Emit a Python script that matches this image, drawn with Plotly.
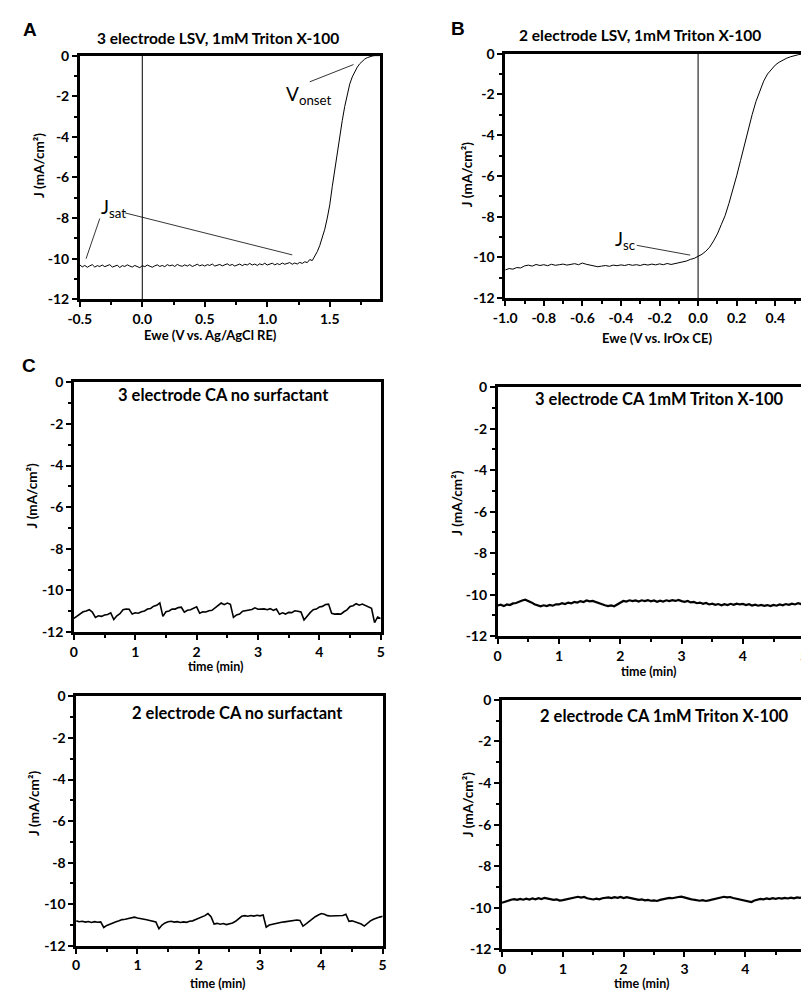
import numpy as np
import plotly.graph_objects as go

W, H = 809, 991

# ---- data ----
# A: 3 electrode LSV (V vs Ag/AgCl), sampled every 0.02 V from -0.50 to 1.90
lsv3_v = np.round(np.arange(-0.50, 1.901, 0.02), 2)
lsv3_j = [
    -10.30, -10.40, -10.33, -10.42, -10.35, -10.29, -10.41, -10.34, -10.38, -10.31,
    -10.39, -10.35, -10.29, -10.41, -10.36, -10.32, -10.43, -10.34, -10.38, -10.30,
    -10.36, -10.41, -10.33, -10.38, -10.44, -10.34, -10.39, -10.31, -10.36, -10.42,
    -10.35, -10.30, -10.38, -10.33, -10.39, -10.29, -10.35, -10.31, -10.38, -10.28,
    -10.34, -10.37, -10.30, -10.36, -10.29, -10.38, -10.33, -10.27, -10.35, -10.30,
    -10.36, -10.29, -10.33, -10.26, -10.36, -10.30, -10.28, -10.35, -10.29, -10.25,
    -10.33, -10.28, -10.36, -10.29, -10.26, -10.34, -10.27, -10.31, -10.23, -10.31,
    -10.26, -10.33, -10.25, -10.30, -10.22, -10.31, -10.26, -10.22, -10.30, -10.24,
    -10.29, -10.21, -10.27, -10.23, -10.19, -10.27, -10.21, -10.26, -10.18, -10.23,
    -10.15, -10.19, -10.04, -10.09, -9.90, -9.65, -9.35, -9.00, -8.55, -8.00,
    -7.35, -6.45, -5.60, -4.70, -3.95, -3.20, -2.50, -1.90, -1.40, -1.05,
    -0.78, -0.57, -0.40, -0.27, -0.17, -0.10, -0.05, -0.02, 0.00, 0.00, 0.00,
]

# B: 2 electrode LSV (V vs IrOx CE), sampled every 0.02 V from -1.00 to 0.56
lsv2_v = np.round(np.arange(-1.00, 0.561, 0.02), 2)
lsv2_j = [
    -10.62, -10.55, -10.58, -10.50, -10.52, -10.42, -10.38, -10.43, -10.35, -10.40,
    -10.36, -10.41, -10.34, -10.39, -10.36, -10.33, -10.38, -10.35, -10.31, -10.36,
    -10.28, -10.34, -10.38, -10.42, -10.46, -10.43, -10.40, -10.44, -10.38, -10.41,
    -10.37, -10.40, -10.35, -10.39, -10.36, -10.40, -10.34, -10.38, -10.33, -10.37,
    -10.32, -10.36, -10.30, -10.35, -10.31, -10.28, -10.24, -10.18, -10.10, -10.05,
    -9.95, -9.85, -9.70, -9.50, -9.20, -8.85, -8.40, -7.95, -7.35, -6.70,
    -6.00, -5.25, -4.45, -3.70, -3.00, -2.35, -1.80, -1.35, -1.00, -0.75,
    -0.56, -0.42, -0.31, -0.22, -0.15, -0.09, -0.05, -0.02, 0.00,
]

# C: chronoamperometry, sampled every 0.05 min over 5 min
ca_t = np.round(np.arange(0, 5.001, 0.05), 2)
ca3_none = [
    -11.35, -11.25, -11.17, -11.03, -10.99, -10.93, -11.04, -11.30, -11.22, -11.25,
    -11.18, -11.16, -11.08, -11.40, -11.22, -11.12, -10.93, -10.90, -10.91, -11.14,
    -11.08, -11.10, -11.03, -10.99, -10.90, -10.87, -10.76, -10.72, -10.60, -11.25,
    -11.03, -10.99, -10.90, -10.90, -10.83, -10.81, -11.05, -10.96, -10.93, -10.84,
    -10.79, -11.10, -11.03, -11.04, -10.98, -10.96, -10.83, -10.74, -10.61, -10.69,
    -10.61, -10.67, -11.30, -11.18, -11.14, -11.00, -10.97, -10.96, -10.92, -10.84,
    -10.91, -10.90, -10.89, -10.93, -10.88, -10.96, -10.90, -11.15, -11.08, -11.14,
    -11.06, -11.07, -10.98, -11.00, -11.04, -11.42, -11.23, -11.07, -10.93, -10.90,
    -10.80, -10.77, -10.68, -10.66, -11.10, -11.14, -11.13, -11.14, -11.03, -10.94,
    -10.78, -10.74, -10.64, -10.71, -10.66, -10.73, -10.76, -10.86, -11.55, -11.28,
    -11.35,
]
ca3_triton = [
    -10.52, -10.48, -10.55, -10.47, -10.50, -10.42, -10.40, -10.33, -10.28, -10.24,
    -10.30, -10.37, -10.46, -10.52, -10.56, -10.51, -10.55, -10.49, -10.53, -10.46,
    -10.47, -10.41, -10.45, -10.38, -10.42, -10.35, -10.38, -10.31, -10.35, -10.28,
    -10.32, -10.30, -10.36, -10.40, -10.47, -10.51, -10.55, -10.52, -10.56, -10.46,
    -10.36, -10.30, -10.33, -10.27, -10.31, -10.28, -10.33, -10.27, -10.31, -10.26,
    -10.32, -10.28, -10.34, -10.29, -10.33, -10.27, -10.31, -10.26, -10.30, -10.25,
    -10.31, -10.34, -10.30, -10.37, -10.35, -10.41, -10.38, -10.44, -10.40, -10.47,
    -10.43, -10.49, -10.45, -10.51, -10.46, -10.50, -10.44, -10.49, -10.43, -10.47,
    -10.44, -10.50, -10.46, -10.52, -10.48, -10.53, -10.49, -10.54, -10.50, -10.55,
    -10.49, -10.53, -10.47, -10.51, -10.45, -10.49, -10.43, -10.47, -10.41, -10.45,
    -10.40,
]
ca2_none = [
    -10.80, -10.84, -10.82, -10.86, -10.83, -10.88, -10.84, -10.87, -10.85, -11.12,
    -11.02, -10.95, -10.90, -10.84, -10.80, -10.74, -10.72, -10.68, -10.65, -10.62,
    -10.66, -10.70, -10.72, -10.75, -10.78, -10.80, -10.85, -11.18, -11.00, -10.90,
    -10.84, -10.82, -10.86, -10.84, -10.88, -10.85, -10.87, -10.82, -10.80, -10.74,
    -10.68, -10.62, -10.55, -10.45, -10.60, -10.95, -10.92, -10.96, -10.93, -10.98,
    -10.94, -10.90, -10.82, -10.68, -10.58, -10.55, -10.58, -10.54, -10.57, -10.53,
    -10.56, -10.52, -11.10, -11.00, -10.96, -10.92, -10.90, -10.87, -10.85, -10.82,
    -10.80, -10.78, -10.76, -10.78, -11.05, -10.95, -10.82, -10.70, -10.60, -10.52,
    -10.45, -10.48, -10.55, -10.57, -10.56, -10.58, -10.55, -10.54, -10.48, -10.82,
    -10.80, -10.84, -10.88, -10.95, -11.05, -10.92, -10.80, -10.72, -10.65, -10.62,
    -10.58,
]
ca2_triton = [
    -9.76, -9.70, -9.66, -9.61, -9.58, -9.62, -9.57, -9.61, -9.56, -9.60,
    -9.55, -9.59, -9.54, -9.58, -9.52, -9.56, -9.58, -9.62, -9.60, -9.65,
    -9.63, -9.60, -9.56, -9.52, -9.50, -9.47, -9.51, -9.48, -9.54, -9.57,
    -9.60, -9.56, -9.59, -9.54, -9.52, -9.50, -9.53, -9.49, -9.52, -9.48,
    -9.53, -9.49, -9.52, -9.55, -9.58, -9.62, -9.60, -9.64, -9.62, -9.66,
    -9.64, -9.67, -9.62, -9.58, -9.55, -9.52, -9.54, -9.50, -9.48, -9.46,
    -9.51, -9.54, -9.58, -9.61, -9.63, -9.66, -9.63, -9.67, -9.64, -9.60,
    -9.56, -9.53, -9.50, -9.47, -9.50, -9.48, -9.53, -9.56, -9.60, -9.63,
    -9.66, -9.69, -9.72, -9.65, -9.60, -9.57, -9.59, -9.55, -9.58, -9.54,
    -9.57, -9.53, -9.56, -9.52, -9.55, -9.51, -9.54, -9.50, -9.52, -9.48,
    -9.47,
]

j_ticks = [-12, -10, -8, -6, -4, -2, 0]
j_ticktext = ["-12", "-10", "-8", "-6", "-4", "-2", "0"]
lsv3_ticks = [-0.5, 0.0, 0.5, 1.0, 1.5]
lsv3_ticktext = ["-0.5", "0.0", "0.5", "1.0", "1.5"]
lsv2_ticks = [-1.0, -0.8, -0.6, -0.4, -0.2, 0.0, 0.2, 0.4]
lsv2_ticktext = ["-1.0", "-0.8", "-0.6", "-0.4", "-0.2", "0.0", "0.2", "0.4"]
t_ticks = [0, 1, 2, 3, 4, 5]

panel_titles_c = ["3 electrode CA no surfactant", "3 electrode CA 1mM Triton X-100",
                  "2 electrode CA no surfactant", "2 electrode CA 1mM Triton X-100"]


def px(x):
    return x / W


def py(y):
    return 1 - y / H


FONT = "Lato"
fig = go.Figure()

# panel boxes in pixels: left, right, top, bottom
boxes = [
    (61, 367, 39.3, 287.3),
    (495, 800, 37.3, 286),
    (55, 368, 371.7, 625.7),
    (487.3, 800, 376.7, 630),
    (57.3, 370, 691.3, 945),
    (491.7, 802, 694.7, 948.7),
]

series = [
    (lsv3_v, lsv3_j, 1),
    (lsv2_v, lsv2_j, 1),
    (ca_t, ca3_none, 1.6),
    (ca_t, ca3_triton, 2.2),
    (ca_t, ca2_none, 1.6),
    (ca_t, ca2_triton, 2.2),
]

for i, (x, y, lw) in enumerate(series):
    n = "" if i == 0 else str(i + 1)
    fig.add_trace(go.Scatter(x=x, y=y, mode="lines", line=dict(color="black", width=lw),
                             xaxis="x" + n, yaxis="y" + n, showlegend=False, hoverinfo="skip"))

tickfont = dict(family=FONT, size=14, color="black", weight="bold")
base = dict(showline=True, linewidth=2.5, linecolor="black", mirror=True, ticks="outside",
            ticklen=5, tickwidth=1.5, tickcolor="black", showgrid=False, zeroline=False,
            tickfont=tickfont, fixedrange=True)

xcfg = [
    dict(range=[-0.5, 1.9], tickmode="array", tickvals=lsv3_ticks, ticktext=lsv3_ticktext,
         minor=dict(ticks="outside", ticklen=3, tickwidth=1.5, dtick=0.25, tick0=0)),
    dict(range=[-1.0, 0.55], tickmode="array", tickvals=lsv2_ticks, ticktext=lsv2_ticktext,
         minor=dict(ticks="outside", ticklen=3, tickwidth=1.5, dtick=0.1, tick0=0)),
] + [dict(range=[0, 5], tickmode="array", tickvals=t_ticks,
          minor=dict(ticks="outside", ticklen=3, tickwidth=1.5, dtick=0.5, tick0=0))] * 4

layout = dict(width=W, height=H, margin=dict(l=0, r=0, t=0, b=0),
              plot_bgcolor="white", paper_bgcolor="white", showlegend=False)

for i, (l, r, t, b) in enumerate(boxes):
    n = "" if i == 0 else str(i + 1)
    xa = dict(base, domain=[px(l), px(r)], anchor="y" + n, **xcfg[i])
    ya = dict(base, domain=[py(b), py(t)], anchor="x" + n, range=[-12, 0], tickmode="array",
              tickvals=j_ticks, ticktext=j_ticktext,
              minor=dict(ticks="outside", ticklen=3, tickwidth=1.5, dtick=1, tick0=0))
    layout["xaxis" + n] = xa
    layout["yaxis" + n] = ya

fig.update_layout(**layout)

# vertical zero lines in A and B
for ax in ["x", "x2"]:
    fig.add_shape(type="line", xref=ax, yref=ax.replace("x", "y") + " domain", x0=0, x1=0, y0=0, y1=1,
                  line=dict(color="black", width=1))

# leader lines for the annotations
leaders = [
    ("x", "y", 1.34, -1.29, 1.69, -0.44),
    ("x", "y", -0.14, -7.74, 1.20, -9.81),
    ("x", "y", -0.34, -8.02, -0.45, -10.0),
    ("x2", "y2", -0.318, -9.41, -0.041, -9.89),
]
for xr, yr, x0, y0, x1, y1 in leaders:
    fig.add_shape(type="line", xref=xr, yref=yr, x0=x0, y0=y0, x1=x1, y1=y1,
                  line=dict(color="black", width=0.8))

bold = dict(family=FONT, color="black", weight="bold")
texts = [
    # text, x, y, size, angle
    ("3 electrode LSV, 1mM Triton X-100", 202, 21, 15.5, 0),
    ("2 electrode LSV, 1mM Triton X-100", 633, 18, 15.5, 0),
    (panel_titles_c[0], 208, 385, 16.5, 0),
    (panel_titles_c[1], 652, 389, 16.5, 0),
    (panel_titles_c[2], 222, 708, 16.5, 0),
    (panel_titles_c[3], 657, 711, 16.5, 0),
    ("Ewe (V vs. Ag/AgCl RE)", 194, 324, 13, 0),
    ("Ewe (V vs. IrOx CE)", 650, 327, 13, 0),
    ("time (min)", 200, 661, 12.5, 0),
    ("time (min)", 642, 666, 12.5, 0),
    ("time (min)", 202, 983, 12.5, 0),
    ("time (min)", 635, 983, 12.5, 0),
    ("J (mA/cm²)", 20, 151, 13.5, -90),
    ("J (mA/cm²)", 456, 160, 13.5, -90),
    ("J (mA/cm²)", 12, 487, 13.5, -90),
    ("J (mA/cm²)", 445, 495, 13.5, -90),
    ("J (mA/cm²)", 15, 800, 13.5, -90),
    ("J (mA/cm²)", 457, 801, 13.5, -90),
]
for txt, x, y, size, ang in texts:
    fig.add_annotation(text=txt, x=px(x), y=py(y), xref="paper", yref="paper", showarrow=False,
                       xanchor="center", yanchor="middle", textangle=ang,
                       font=dict(bold, size=size))

# panel letters
for txt, x, y in [("A", 10, 13), ("B", 447, 12), ("C", 9, 355)]:
    fig.add_annotation(text=txt, x=px(x), y=py(y), xref="paper", yref="paper", showarrow=False,
                       xanchor="center", yanchor="middle",
                       font=dict(family="Liberation Sans", size=19, color="black", weight="bold"))

# curve labels
for txt, x, y in [("V<sub>onset</sub>", 295, 79), ("J<sub>sat</sub>", 95, 194), ("J<sub>sc</sub>", 618, 227)]:
    fig.add_annotation(text=txt, x=px(x), y=py(y), xref="paper", yref="paper", showarrow=False,
                       xanchor="center", yanchor="middle",
                       font=dict(family=FONT, size=19, color="black"))

fig.write_html("out.html")
